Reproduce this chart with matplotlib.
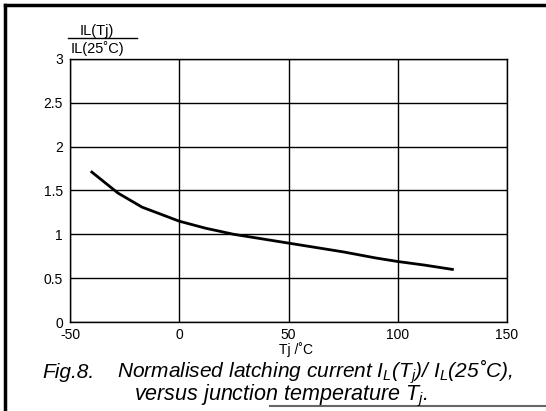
import numpy as np
import matplotlib
matplotlib.use("Agg")
import matplotlib.pyplot as plt

# Normalised latching current vs junction temperature
tj = [-40, -28, -17, 0, 12, 25, 40, 50, 60, 75, 90, 100, 112, 125]
il_ratio = [1.71, 1.47, 1.31, 1.15, 1.07, 1.0, 0.94, 0.90, 0.86, 0.80,
            0.73, 0.69, 0.65, 0.60]
xticks = [-50, 0, 50, 100, 150]
yticks = [0, 0.5, 1, 1.5, 2, 2.5, 3]
ytick_labels = ['0', '0.5', '1', '1.5', '2', '2.5', '3']

plt.rcParams['font.family'] = ['Liberation Sans', 'DejaVu Sans']
plt.rcParams['axes.unicode_minus'] = False
plt.rcParams['mathtext.fontset'] = 'custom'
plt.rcParams['mathtext.rm'] = 'Liberation Sans:italic'
plt.rcParams['mathtext.it'] = 'Liberation Sans:italic'

fig = plt.figure(figsize=(5.46, 4.11), dpi=100)
W, H = 546, 411
ax = fig.add_axes([70 / W, 1 - 322 / H, 437 / W, 263 / H])

ax.plot(tj, il_ratio, color='black', linewidth=2)
ax.set_xlim(-50, 150)
ax.set_ylim(0, 3)
ax.set_xticks(xticks)
ax.set_yticks(yticks)
ax.set_yticklabels(ytick_labels)
ax.grid(True, color='black', linewidth=1)
for sp in ax.spines.values():
    sp.set_linewidth(1)
ax.tick_params(length=0, labelsize=10)
ax.tick_params(axis='x', pad=4)
ax.tick_params(axis='y', pad=5)

# axis titles
fig.text(296 / W, 1 - 342 / H, 'Tj /˚C', ha='center', va='top', fontsize=10)
fig.text(97 / W, 1 - 31 / H, 'IL(Tj)', ha='center', va='center', fontsize=10.5)
fig.text(97 / W, 1 - 49 / H, 'IL(25˚C)', ha='center', va='center', fontsize=10.5)
fig.add_artist(plt.Line2D([68 / W, 137 / W], [1 - 38.5 / H, 1 - 38.5 / H],
                          color='black', linewidth=1))

# caption
cap = dict(ha='left', va='baseline', fontsize=15, style='italic')
fig.text(42 / W, 1 - 378 / H, 'Fig.8.', **cap)
fig.text(117 / W, 1 - 378 / H,
         'Normalised latching current $I_L(T_j)$/ $I_L$(25˚C),', **cap)
cap['fontsize'] = 15.5
fig.text(134 / W, 1 - 400 / H, 'versus junction temperature $T_j$.', **cap)

# page frame
fig.add_artist(plt.Line2D([5 / W, 5 / W], [0, 1 - 5 / H], color='black', linewidth=2.5))
fig.add_artist(plt.Line2D([5 / W, 1], [1 - 5 / H, 1 - 5 / H], color='black', linewidth=2.5))
fig.add_artist(plt.Line2D([270 / W, 1], [1 - 406 / H, 1 - 406 / H], color='#666666', linewidth=1.5))

plt.savefig('out.png', dpi=100)
